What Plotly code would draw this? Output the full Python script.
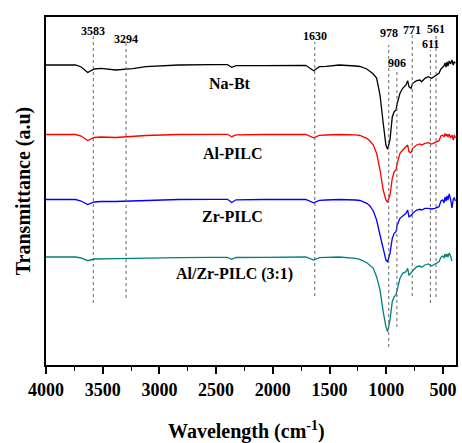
import plotly.graph_objects as go

# Wavenumber grid (cm-1) shared by all spectra
wavenumber = [4000, 3740, 3690, 3632, 3575, 3515, 3385, 3235, 3120, 2830, 2530, 2400, 2362, 2325,
              2090, 1710, 1640, 1590, 1530, 1415, 1270, 1232, 1171, 1144, 1114, 1085, 1055, 1027,
              1003, 988, 967, 947, 930, 914, 903, 879, 855, 826, 811, 800, 782, 767, 732, 703,
              688, 659, 630, 600, 571, 535, 518, 503, 491, 482, 473, 464, 456, 445, 433, 421,
              409, 400, 390]

# Stacked transmittance (a.u.)
na_bt = [300, 300, 298, 292.5, 296, 296.7, 295, 296.3, 298.3, 300, 300.3, 300.3, 297.7, 299.3,
         299.3, 299.7, 294.3, 298.3, 298.7, 300, 299, 298.5, 296, 293.3, 291, 287, 270, 242,
         220, 215.7, 225, 248, 253.3, 255, 261.7, 271.7, 276.7, 280, 284.3, 278.3, 276.7, 281.7, 284.3, 285,
         283.3, 286.7, 288.3, 286.7, 289, 291.7, 296, 297.7, 299, 302, 298, 303, 299, 304, 301, 305,
         300, 303, 302]

al_pilc = [230.5, 230.5, 229, 224.5, 227.5, 228, 227.5, 228.5, 229.5, 230.5, 230.7, 230.7, 228.3, 230.2,
           230.5, 230.5, 227.2, 229.7, 230, 230.5, 230.2, 229.5, 226.7, 224, 220, 211.7, 195, 175,
           165, 162.7, 170, 186.7, 193.3, 195, 201.7, 211.7, 215, 217.7, 220, 213.3, 212.3, 216.7, 220, 221,
           220, 221.7, 222.3, 221, 222.3, 224.3, 229, 230, 228, 231.5, 229, 231, 228, 231, 227, 230,
           225, 230, 227]

zr_pilc = [165.5, 165.5, 164, 160.5, 163, 163.5, 163.5, 164, 164.7, 165.5, 165.7, 165.7, 162.5, 165.2,
           165.5, 165.7, 162.2, 164.7, 165, 165.5, 165, 164.5, 161.7, 159, 154, 145, 130, 115,
           105, 103, 111.7, 126.7, 131.7, 133.3, 140, 146.7, 149.3, 151.7, 155, 148.3, 149.3, 151.7, 155, 155.7,
           155, 156.7, 156.7, 156, 156.7, 158.3, 164, 165, 162, 168, 164, 169, 165, 171, 166, 157,
           166, 167, 164]

alzr_pilc = [108, 108, 107, 104.3, 106, 106.3, 106.3, 106.7, 107, 107.3, 107.7, 107.7, 105.7, 107.5,
             107.7, 108, 105, 107.3, 107.7, 108, 106.7, 105.7, 102.3, 100, 96.7, 88.3, 75, 53.3,
             38.3, 33.3, 45, 63.3, 68.3, 70, 75, 86.7, 91.7, 93.3, 96.7, 90, 91.7, 94.3, 98.3, 99,
             97.7, 100, 101, 99, 101, 103.3, 107.7, 109, 107, 111, 108, 111, 108, 112, 109, 104,
             None, None, None]

series_names = ["Na-Bt", "Al-PILC", "Zr-PILC", "Al/Zr-PILC (3:1)"]
series_values = [na_bt, al_pilc, zr_pilc, alzr_pilc]
series_colors = ["#000000", "#ff0000", "#0000ff", "#008080"]

# Assigned absorption bands (cm-1)
band_positions = [3583, 3294, 1630, 978, 906, 771, 611, 561]
band_labels = ["3583", "3294", "1630", "978", "906", "771", "611", "561"]

x_ticks = [4000, 3500, 3000, 2500, 2000, 1500, 1000, 500]

SERIF = "Liberation Serif, Times New Roman, serif"

# Layout placement for the band guides: (line bottom, line top, label y)
band_layout = [(62, 330, 334.3), (67, 322, 326), (69, 323, 329), (18, 320, 331.7),
               (38, 295, 301.7), (69, 332, 335), (62, 315, 320.7), (68, 332, 336.3)]
# Series name placement (x, y)
name_layout = [(2378, 281.7), (2351, 212), (2360, 148.3), (2334, 91)]

fig = go.Figure()

for name, vals, col in zip(series_names, series_values, series_colors):
    fig.add_trace(go.Scatter(x=wavenumber, y=vals, mode="lines", name=name,
                             line=dict(color=col, width=1.3), showlegend=False))

for pos, lab, (y0, y1, ty) in zip(band_positions, band_labels, band_layout):
    fig.add_shape(type="line", xref="x", yref="y", x0=pos, x1=pos, y0=y0, y1=y1,
                  line=dict(color="#666666", width=1, dash="dot"))
    fig.add_annotation(x=pos, y=ty, xref="x", yref="y", text="<b>%s</b>" % lab,
                       showarrow=False, font=dict(family=SERIF, size=12, color="black"))

for name, (nx, ny) in zip(series_names, name_layout):
    fig.add_annotation(x=nx, y=ny, xref="x", yref="y", text="<b>%s</b>" % name,
                       showarrow=False, font=dict(family=SERIF, size=16, color="black"))

# x-axis title, placed below the tick labels
fig.add_annotation(x=0.49, y=-0.188, xref="paper", yref="paper", yanchor="middle",
                   text="<b>Wavelength (cm<sup>-1</sup>)</b>", showarrow=False,
                   font=dict(family=SERIF, size=20, color="black"))

fig.update_layout(
    width=462, height=443,
    margin=dict(l=46, r=6, t=17, b=78),
    paper_bgcolor="white", plot_bgcolor="white",
    font=dict(family=SERIF, color="black"),
)

fig.update_xaxes(
    range=[4000, 385],
    automargin=False,
    tickvals=x_ticks, ticktext=["<b>%d</b>" % t for t in x_ticks],
    tickfont=dict(family=SERIF, size=18, color="black"),
    ticks="outside", ticklen=7, tickwidth=1.5, tickcolor="black",
    ticklabelstandoff=0,
    minor=dict(ticks="outside", ticklen=4, tickwidth=1, tickcolor="black", dtick=250, tick0=0),
    showline=True, linewidth=2, linecolor="black", mirror=True,
    showgrid=False, zeroline=False,
)

fig.update_yaxes(
    range=[0, 348],
    automargin=False,
    showticklabels=False, ticks="",
    showline=True, linewidth=2, linecolor="black", mirror=True,
    showgrid=False, zeroline=False,
    title=dict(text="<b>Transmittance (a.u)</b>", font=dict(family=SERIF, size=20, color="black"),
               standoff=8),
)

fig.write_html("out.html")
